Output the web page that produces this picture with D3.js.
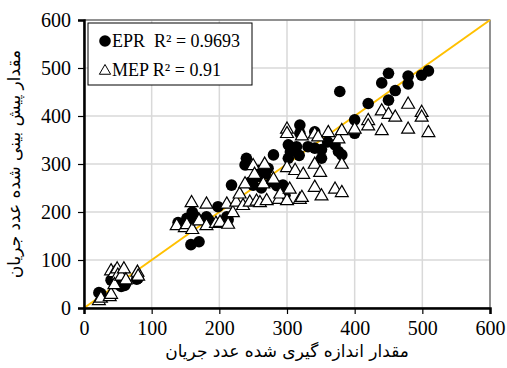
<!DOCTYPE html>
<html>
<head>
<meta charset="utf-8">
<script src="https://cdn.jsdelivr.net/npm/d3@7"></script>
<style>
  body { margin: 0; background: #fff; }
  svg { display: block; }
</style>
</head>
<body>
<div id="chart"></div>
<script>
// measured vs predicted flow number
const eprPoints = [
  [22, 32], [25, 30], [40, 58], [45, 62], [50, 50], [55, 45], [60, 47], [62, 52], [78, 60], [80, 62],
  [139, 178], [145, 175], [152, 187], [155, 172], [161, 183], [160, 200], [158, 132], [170, 138],
  [165, 190], [181, 190], [184, 184], [198, 211], [211, 190], [213, 184],
  [218, 256], [240, 312], [238, 298], [250, 256], [258, 287], [272, 291], [258, 274], [277, 263],
  [262, 250], [280, 319], [294, 256], [297, 235], [285, 255], [245, 262], [268, 280],
  [302, 340], [314, 336], [302, 312], [319, 381], [319, 364], [305, 325], [318, 318],
  [331, 336], [341, 367], [341, 333], [351, 312], [351, 330], [371, 340], [376, 326], [381, 319],
  [360, 346], [378, 451], [400, 392], [400, 364],
  [420, 426], [440, 469], [450, 489], [450, 433], [460, 453], [479, 483], [479, 467], [499, 485], [509, 494]
];
const mepPoints = [
  [22, 17], [25, 22], [38, 25], [40, 30], [40, 79], [45, 75], [49, 83], [50, 70], [45, 50], [55, 68],
  [59, 83], [62, 60], [79, 76], [80, 68],
  [137, 173], [149, 169], [152, 175], [159, 221], [160, 165], [170, 183], [181, 218], [181, 173],
  [195, 178], [201, 180], [211, 218], [213, 176], [220, 200], [225, 222], [230, 239], [235, 215],
  [238, 260], [245, 222], [250, 298], [252, 280], [255, 224], [260, 221], [265, 260], [267, 301],
  [270, 225], [280, 270], [288, 228], [290, 239], [300, 294], [300, 225], [300, 374], [300, 365],
  [304, 249], [312, 288], [319, 228], [322, 232], [322, 360], [324, 280], [341, 301], [341, 253],
  [341, 364], [346, 358], [349, 284], [351, 235], [361, 367], [371, 249], [376, 354], [381, 242],
  [381, 371], [381, 301], [400, 374], [420, 392], [420, 381], [440, 412], [440, 371], [450, 405],
  [460, 399], [479, 426], [479, 374], [499, 409], [499, 399], [509, 367]
];
const axisTicks = [0, 100, 200, 300, 400, 500, 600];
const legendItems = [
  { name: 'EPR', label: 'EPR  R² = 0.9693', shape: 'circle' },
  { name: 'MEP', label: 'MEP R² = 0.91', shape: 'triangle' }
];
const xTitle = 'مقدار اندازه گیری شده عدد جریان';
const yTitle = 'مقدار پیش بینی شده عدد جریان';

const width = 507, height = 368;
const margin = { top: 20, right: 17, bottom: 60, left: 84 };
const innerWidth = width - margin.left - margin.right;
const innerHeight = height - margin.top - margin.bottom;

const svg = d3.select('#chart').append('svg')
  .attr('width', width)
  .attr('height', height);

const g = svg.append('g')
  .attr('transform', `translate(${margin.left},${margin.top})`);

const x = d3.scaleLinear().domain([0, 600]).range([0, innerWidth]);
const y = d3.scaleLinear().domain([0, 600]).range([innerHeight, 0]);

// grid
g.append('g').selectAll('line')
  .data(axisTicks.slice(1))
  .join('line')
  .attr('x1', d => x(d)).attr('x2', d => x(d))
  .attr('y1', 0).attr('y2', innerHeight)
  .attr('stroke', '#d9d9d9').attr('stroke-width', 1.5);
g.append('g').selectAll('line')
  .data(axisTicks.slice(1))
  .join('line')
  .attr('x1', 0).attr('x2', innerWidth)
  .attr('y1', d => y(d)).attr('y2', d => y(d))
  .attr('stroke', '#d9d9d9').attr('stroke-width', 1.5);

// frame top / right
g.append('rect')
  .attr('width', innerWidth).attr('height', innerHeight)
  .attr('fill', 'none').attr('stroke', '#404040').attr('stroke-width', 1);

// 1:1 line
g.append('line')
  .attr('x1', x(0)).attr('y1', y(0))
  .attr('x2', x(600)).attr('y2', y(600))
  .attr('stroke', '#ffc000').attr('stroke-width', 2);

// axes
const font = '"Liberation Serif", "Times New Roman", serif';
const xAxis = g.append('g')
  .attr('transform', `translate(0,${innerHeight})`)
  .call(d3.axisBottom(x).tickValues(axisTicks).tickSize(6).tickPadding(7));
const yAxis = g.append('g')
  .call(d3.axisLeft(y).tickValues(axisTicks).tickSize(6).tickPadding(7));
[xAxis, yAxis].forEach(a => {
  a.attr('font-family', null).attr('font-size', null);
  a.select('.domain').attr('stroke', '#000').attr('stroke-width', 2.5);
  a.selectAll('.tick line').attr('stroke', '#000').attr('stroke-width', 1.2);
  a.selectAll('.tick text')
    .attr('fill', '#000')
    .attr('font-family', font)
    .attr('font-size', 20);
});

// points
const tri = d3.symbol().type(d3.symbolTriangle).size(72);
g.append('g').selectAll('circle')
  .data(eprPoints)
  .join('circle')
  .attr('cx', d => x(d[0]))
  .attr('cy', d => y(d[1]))
  .attr('r', 5.8)
  .attr('fill', '#000');
g.append('g').selectAll('path')
  .data(mepPoints)
  .join('path')
  .attr('d', tri)
  .attr('transform', d => `translate(${x(d[0])},${y(d[1]) + 1})`)
  .attr('fill', '#fff')
  .attr('stroke', '#000')
  .attr('stroke-width', 1.2);

// legend
const legend = svg.append('g').attr('transform', 'translate(88,23)');
legend.append('rect')
  .attr('width', 164).attr('height', 62)
  .attr('fill', '#fff').attr('stroke', '#000').attr('stroke-width', 1);
legendItems.forEach((item, i) => {
  const row = legend.append('g').attr('transform', `translate(17,${18 + i * 29})`);
  if (item.shape === 'circle') {
    row.append('circle').attr('r', 5.8).attr('fill', '#000');
  } else {
    row.append('path').attr('d', d3.symbol().type(d3.symbolTriangle).size(55))
      .attr('transform', 'translate(0,1)')
      .attr('fill', '#fff').attr('stroke', '#000').attr('stroke-width', 1);
  }
  row.append('text')
    .attr('x', 7).attr('y', 6)
    .attr('font-family', font)
    .attr('font-size', 18)
    .attr('xml:space', 'preserve')
    .style('white-space', 'pre')
    .text(item.label);
});

// axis titles
svg.append('text')
  .attr('x', margin.left + innerWidth / 2)
  .attr('y', 357)
  .attr('text-anchor', 'middle')
  .attr('direction', 'rtl')
  .attr('font-family', '"DejaVu Sans", sans-serif')
  .attr('font-size', 17)
  .text(xTitle);
svg.append('text')
  .attr('transform', `translate(20,${margin.top + innerHeight / 2}) rotate(-90)`)
  .attr('text-anchor', 'middle')
  .attr('direction', 'rtl')
  .attr('font-family', '"DejaVu Sans", sans-serif')
  .attr('font-size', 17)
  .text(yTitle);
</script>
</body>
</html>
